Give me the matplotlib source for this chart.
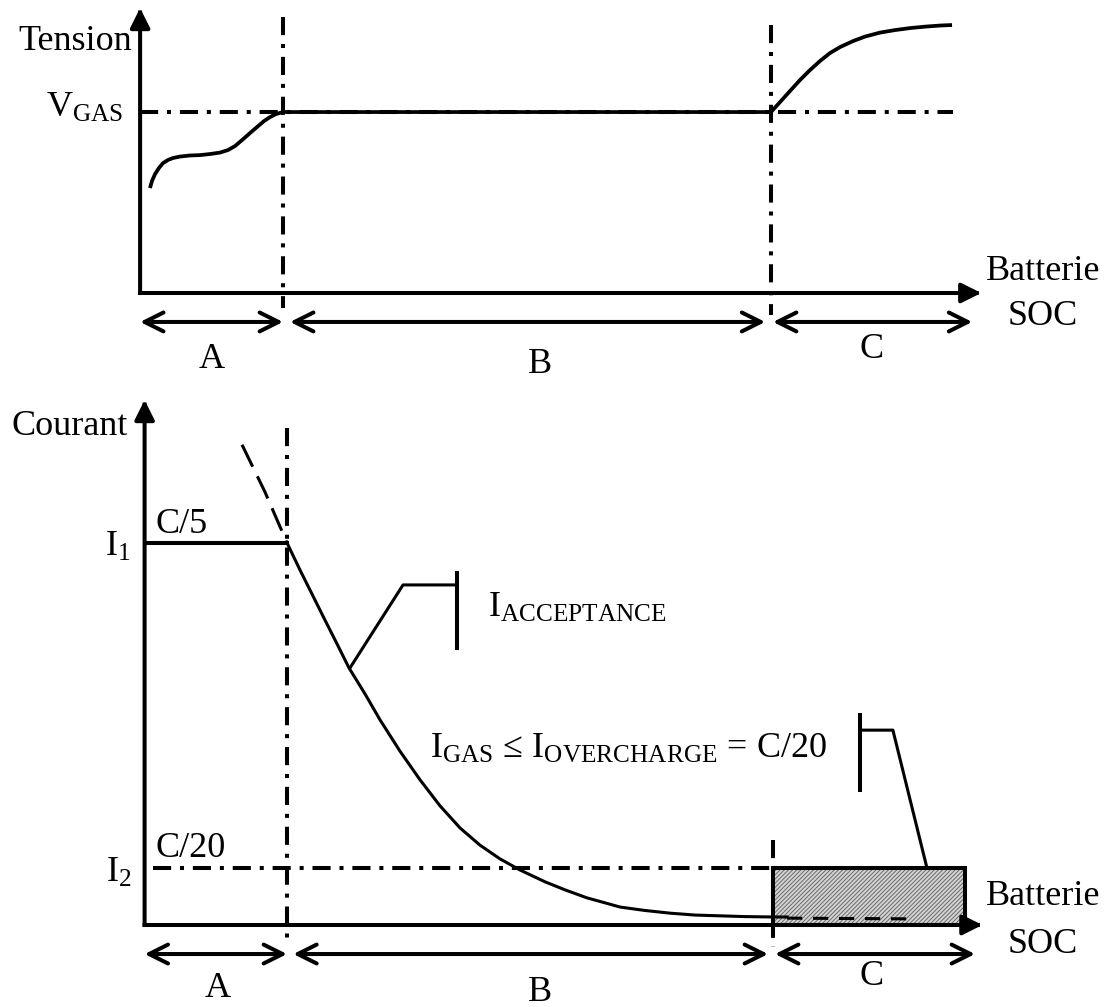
import matplotlib
matplotlib.use("Agg")
import matplotlib.pyplot as plt
from matplotlib.patches import FancyArrowPatch, Rectangle

plt.rcParams['font.family'] = ['Liberation Serif', 'DejaVu Serif']
plt.rcParams['mathtext.fontset'] = 'custom'
plt.rcParams['mathtext.rm'] = 'Liberation Serif'
plt.rcParams['mathtext.it'] = 'Liberation Serif:italic'
plt.rcParams['mathtext.bf'] = 'Liberation Serif:bold'
plt.rcParams['hatch.linewidth'] = 0.7

# ---------------- data (SOC in %, values in normalised units) ----------------
soc_boundaries = [17.33, 76.5]           # A|B and B|C limits
region_labels = ['A', 'B', 'C']

# top panel: voltage (V_GAS = 1)
v_gas = 1.0
soc_v = [1.20, 1.44, 1.81, 2.29, 2.78, 3.38, 3.99, 4.84, 6.05, 7.26, 8.48,
         9.69, 10.66, 11.51, 12.36, 13.33, 14.17, 15.02, 15.75, 16.48, 17.33,
         76.5, 77.59, 78.80, 80.02, 81.23, 82.44, 83.65, 84.87, 86.44, 87.90,
         89.72, 91.54, 93.35, 95.17, 96.99, 98.45]
volt = [0.580, 0.619, 0.657, 0.691, 0.718, 0.735, 0.746, 0.754, 0.760, 0.762,
        0.768, 0.776, 0.790, 0.812, 0.845, 0.884, 0.917, 0.950, 0.972, 0.989,
        1.000,
        1.000, 1.055, 1.116, 1.177, 1.232, 1.282, 1.326, 1.359, 1.392, 1.417,
        1.439, 1.453, 1.464, 1.472, 1.478, 1.481]

# bottom panel: current (I1 = 1)
i1 = 1.0
i2 = 0.149
soc_i_dash_start = [11.86, 14.66, 17.34]
cur_dash_start = [1.257, 1.133, 1.000]
soc_i = [17.34, 18.92, 20.50, 21.96, 23.42, 24.88, 26.83, 28.66, 31.09, 33.53,
         35.96, 38.40, 40.83, 43.27, 45.70, 48.75, 51.18, 53.86, 56.05, 57.88,
         60.92, 63.96, 67.01, 70.05, 73.09, 76.50, 78.21]
cur = [1.000, 0.929, 0.861, 0.798, 0.736, 0.673, 0.605, 0.537, 0.455, 0.380,
       0.312, 0.254, 0.209, 0.173, 0.144, 0.113, 0.092, 0.071, 0.058, 0.047,
       0.038, 0.031, 0.026, 0.024, 0.022, 0.021, 0.021]
soc_i_dash_end = [78.21, 93.55]
cur_dash_end = [0.018, 0.016]

# ---------------- figure ----------------
W, H = 1109, 1007
fig = plt.figure(figsize=(W / 100, H / 100), dpi=100)
FS = 26
LW_AX = 2.9
LW_CURVE = 2.2
DASHDOT = (0, (4.5, 2.2, 1.0, 2.2))


def make_axes(left_px, right_px, bottom_px, top_px, xmax, ymax):
    ax = fig.add_axes([left_px / W, (H - bottom_px) / H,
                       (right_px - left_px) / W, (bottom_px - top_px) / H])
    ax.set_xlim(0, xmax)
    ax.set_ylim(0, ymax)
    ax.axis('off')
    return ax


def axis_arrows(ax, xmax, ymax):
    for (x0, y0, x1, y1) in [(0, 0, xmax, 0), (0, 0, 0, ymax)]:
        p = FancyArrowPatch((x0, y0), (x1, y1), arrowstyle='-|>',
                            mutation_scale=30, lw=LW_AX, color='black',
                            shrinkA=0, shrinkB=0, clip_on=False, zorder=5,
                            capstyle='projecting')
        ax.add_patch(p)


def dim_arrow(ax, x0, x1, y):
    p = FancyArrowPatch((x0, y), (x1, y), arrowstyle='<->',
                        mutation_scale=34, lw=LW_AX, color='black',
                        shrinkA=0, shrinkB=0, clip_on=False, zorder=5)
    ax.add_patch(p)


# ======== TOP PANEL ========
top_xmax = 102.0
top_ymax = 1.575
axT = make_axes(140.1, 140.1 + top_xmax * 8.247, 293, 8, top_xmax, top_ymax)
axis_arrows(axT, top_xmax, top_ymax)

axT.plot([0, 98.56], [v_gas, v_gas], color='black', lw=LW_AX, ls=DASHDOT,
         clip_on=False, zorder=3)
axT.plot([soc_boundaries[0]] * 2, [1.525, -0.083], color='black', lw=LW_AX,
         ls=DASHDOT, clip_on=False, zorder=3)
axT.plot([soc_boundaries[1]] * 2, [1.481, -0.122], color='black', lw=LW_AX,
         ls=DASHDOT, clip_on=False, zorder=3)
axT.plot(soc_v, volt, color='black', lw=LW_CURVE + 0.5, clip_on=False,
         zorder=4, solid_capstyle='butt', solid_joinstyle='round')

yr = -0.160
dim_arrow(axT, 0, 17.33, yr)
dim_arrow(axT, 18.18, 75.8, yr)
dim_arrow(axT, 76.74, 100.9, yr)
for lab, x, y in zip(region_labels, [8.74, 48.5, 88.74], [-0.414, -0.442, -0.359]):
    axT.text(x, y, lab, fontsize=FS, ha='center', va='baseline', clip_on=False)

axT.text(-0.98, 1.343, 'Tension', fontsize=FS, ha='right', va='baseline')
axT.text(-2.06, 0.972, r'V$_{\mathrm{GAS}}$', fontsize=FS, ha='right', va='baseline')
axT.text(109.5, 0.072, 'Batterie', fontsize=FS, ha='center', va='baseline')
axT.text(109.5, -0.177, 'SOC', fontsize=FS, ha='center', va='baseline')

# ======== BOTTOM PANEL ========
bot_xmax = 102.0
bot_ymax = 1.374
axB = make_axes(144.6, 144.6 + bot_xmax * 8.214, 925, 400, bot_xmax, bot_ymax)

# hatched overcharge box
box_w = 99.88 - soc_boundaries[1]
axB.add_patch(Rectangle((soc_boundaries[1], 0), box_w, i2,
                        facecolor='#d4d4d4', edgecolor='none', zorder=1))
axB.add_patch(Rectangle((soc_boundaries[1], 0), box_w, i2,
                        facecolor='none', edgecolor='#6a6a6a', hatch='////////',
                        lw=0, zorder=1.5))
axB.add_patch(Rectangle((soc_boundaries[1], 0), box_w, i2,
                        facecolor='none', edgecolor='black', lw=LW_AX, zorder=4))

axis_arrows(axB, bot_xmax, bot_ymax)

axB.plot([0, soc_boundaries[0]], [i1, i1], color='black', lw=LW_AX,
         clip_on=False, zorder=4)
axB.plot([1.03, soc_boundaries[1]], [i2, i2], color='black', lw=LW_AX,
         ls=DASHDOT, clip_on=False, zorder=3)
axB.plot([soc_boundaries[0]] * 2, [1.301, -0.052], color='black', lw=LW_AX,
         ls=DASHDOT, clip_on=False, zorder=3)
axB.plot([soc_boundaries[1]] * 2, [0.2225, -0.058], color='black', lw=LW_AX,
         ls=DASHDOT, clip_on=False, zorder=3)

axB.plot(soc_i_dash_start, cur_dash_start, color='black', lw=LW_CURVE,
         ls=(0, (8, 3.5)), clip_on=False, zorder=4)
axB.plot(soc_i, cur, color='black', lw=LW_CURVE, clip_on=False, zorder=4,
         solid_joinstyle='round')
axB.plot(soc_i_dash_end, cur_dash_end, color='black', lw=LW_CURVE,
         ls=(0, (5, 3.5)), clip_on=False, zorder=4)

# callouts
axB.plot([25.01, 31.46, 38.03], [0.673, 0.890, 0.890], color='black', lw=2.2,
         clip_on=False, zorder=4)
axB.plot([38.03, 38.03], [0.921, 0.725], color='black', lw=2.9, clip_on=False,
         zorder=4)
axB.plot([87.1, 91.1, 95.25], [0.510, 0.510, 0.149], color='black', lw=2.2,
         clip_on=False, zorder=4)
axB.plot([87.1, 87.1], [0.550, 0.353], color='black', lw=2.9, clip_on=False,
         zorder=4)

yr = -0.076
dim_arrow(axB, 0, 17.34, yr)
dim_arrow(axB, 18.1, 75.9, yr)
dim_arrow(axB, 76.75, 101.1, yr)
for lab, x, y in zip(region_labels, [8.84, 48.1, 88.56], [-0.188, -0.199, -0.157]):
    axB.text(x, y, lab, fontsize=FS, ha='center', va='baseline', clip_on=False)

axB.text(-2.02, 1.283, 'Courant', fontsize=FS, ha='right', va='baseline')
axB.text(-1.78, 0.966, r'I$_{\mathrm{1}}$', fontsize=FS, ha='right', va='baseline')
axB.text(-1.53, 0.113, r'I$_{\mathrm{2}}$', fontsize=FS, ha='right', va='baseline')
axB.text(1.28, 1.026, 'C/5', fontsize=FS, ha='left', va='baseline')
axB.text(1.28, 0.178, 'C/20', fontsize=FS, ha='left', va='baseline')
axB.text(41.8, 0.806, r'I$_{\mathrm{ACCEPTANCE}}$', fontsize=FS, ha='left',
         va='baseline')
axB.text(34.7, 0.437, r'I$_{\mathrm{GAS}}$ ≤ I$_{\mathrm{OVERCHARGE}}$ = C/20',
         fontsize=FS, ha='left', va='baseline')
axB.text(109.4, 0.052, 'Batterie', fontsize=FS, ha='center', va='baseline')
axB.text(109.4, -0.073, 'SOC', fontsize=FS, ha='center', va='baseline')

fig.savefig('out.png', dpi=100, facecolor='white')
